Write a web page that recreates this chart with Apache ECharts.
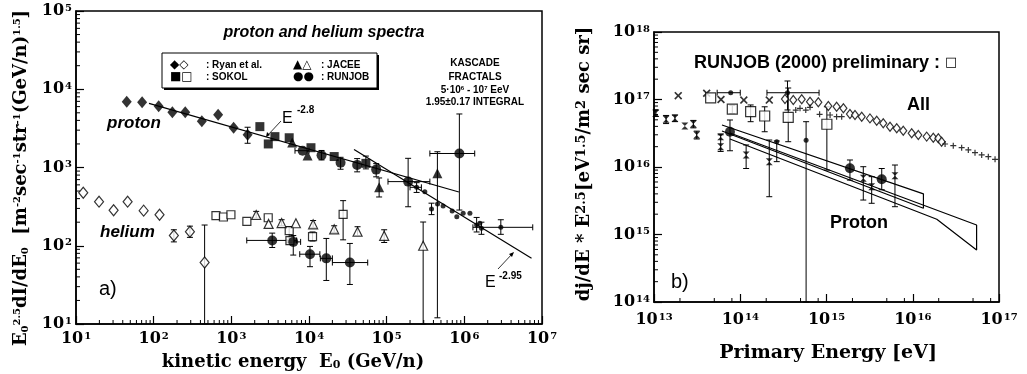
<!DOCTYPE html>
<html><head><meta charset="utf-8">
<script src="https://cdn.jsdelivr.net/npm/echarts@6/dist/echarts.min.js"></script>
<style>html,body{margin:0;padding:0;background:#fff}#c{width:1027px;height:374px}</style>
</head><body><div id="c"></div><script>
// ---------- panel a) : proton and helium spectra ----------
const ryanProton   = [[45,6900],[71,6800],[116,6050],[174,5070],[255,5070],[417,3890],[676,4730],[1070,3230],[1620,2630]];
const sokolProton  = [[2330,3330],[2990,2000],[3640,2480],[5560,2400],[10600,1790],[21100,1380],[54000,1130]];
const jaceeProton  = [[6080,2080],[9590,1420],[80000,558],[450000,843]];
const runjobProton = [[8280,1640],[14500,1430],[25500,1150],[41700,1080],[73300,940],[189000,660],[863000,1510]];
const kascadePts   = [[243000,558],[310000,491],[378000,295],[452000,342],[533000,322],[697000,278],[800000,235],[966000,260],[1180000,260],[1440000,184],[1585000,194],[1660000,167],[2950000,172]];
const ryanHelium   = [[12.4,476],[19.8,366],[30.5,284],[46.2,366],[74.3,281],[119,249],[182,135],[293,151],[453,61]];
const sokolHelium  = [[634,242],[791,233],[988,249],[1585,205],[2985,228],[5560,156],[5680,116],[11100,131],[27500,252]];
const jaceeHelium  = [[2090,247],[3020,190],[4440,195],[6780,194],[11300,188],[21100,162],[42200,151],[92900,134],[295000,100]];
const runjobHelium = [[3360,117],[6270,112],[10300,78],[16700,69],[33600,61]];
const fitE28  = [[87,6610],[851000,486]];
const fitE295 = [[38000,1700],[7330000,69]];
// vertical error bars [E, low, high]
const aVErr = [[1620,2040,3270],[182,112,160],[293,128,178],[453,10,184],[80000,420,735],[450000,12,1590],
  [189000,315,1310],[863000,286,4830],[295000,10,201],[27500,119,377],[3360,95,145],[6270,76,135],[10300,54,98],
  [16700,36,124],[33600,32,107],[2090,225,275],[4440,180,215],[11300,170,210],[21100,148,180],[42200,135,175],
  [92900,110,160],[5560,110,175],[11100,115,150],[14500,1250,1650],[25500,950,1350],[41700,880,1300],[73300,760,1120],
  [54000,960,1400],[243000,480,640],[378000,250,350],[1440000,150,230],[1660000,140,200],[2950000,140,215]];
// horizontal error bars [flux, Elow, Ehigh]
const aHErr = [[660,104000,360000],[1510,360000,1360000],[117,1580,6920],[112,5200,7800],[78,7600,13800],[69,14000,20000],
  [61,20000,57000],[172,1290000,7600000],[1640,6600,10000],[558,200000,280000]];

// ---------- panel b) : RUNJOB all-particle and proton ----------
const allDiamonds = [[3.3e14,1.016e17],[4.12e14,9.84e16],[5.16e14,1.007e17],[6.44e14,9.27e16],[8.04e14,9.08e16],[1.05e15,8.02e16],
  [1.31e15,7.82e16],[1.57e15,7.41e16],[1.87e15,6.1e16],[2.14e15,5.89e16],[2.56e15,5.56e16],[3.19e15,5.25e16],[3.82e15,4.85e16],
  [4.55e15,4.44e16],[5.45e15,3.95e16],[6.52e15,3.74e16],[7.76e15,3.45e16],[9.72e15,3.16e16],[1.16e16,2.98e16],[1.45e16,2.82e16],
  [1.73e16,2.72e16],[1.98e16,2.66e16],[2.16e16,2.37e16]];
const allPlus = [[4.4e14,6.98e16],[4.93e14,7.41e16],[5.75e14,6.98e16],[6.44e14,7.66e16],[8.32e14,6.03e16],[1.1e15,5.89e16],
  [1.31e15,5.56e16],[1.5e15,5.56e16],[2.37e16,2.19e16],[2.95e16,2.07e16],[3.69e16,1.93e16],[4.41e16,1.79e16],[5.27e16,1.63e16],
  [6.3e16,1.51e16],[7.52e16,1.42e16],[9.0e16,1.3e16]];
const allCross = [[1.91e13,1.14e17],[4.08e13,1.24e17],[5.98e13,1.0e17],[1.1e14,9.8e16],[2.17e14,9.8e16]];
const protonStars = [[1.05e13,6.25e16],[1.38e13,5.1e16],[1.75e13,5.26e16],[2.28e13,4.05e16],[2.86e13,4.34e16],[3.13e13,2.98e16],
  [5.93e13,2.81e16],[5.93e13,2.0e16],[1.17e14,1.5e16],[2.17e14,1.2e16],[2.67e15,6.8e15],[3.34e15,5.1e15],[6.22e15,7.4e15]];
const protonCircles = [[7.6e13,3.33e16],[1.87e15,9.6e15],[4.37e15,6.6e15]];
const smallDots = [[2.65e14,2.37e16],[5.8e14,2.5e16],[3.53e14,1.26e17],[7.75e13,1.26e17]];
const runjob2000 = [[4.54e13,1.06e17],[8.09e13,7.2e16],[1.32e14,6.6e16],[1.92e14,5.7e16],[3.6e14,5.45e16],[1.01e15,4.3e16]];
const bandA = [[6.14e13,4.19e16],[1.33e16,4.0e15],[1.33e16,2.45e15],[6.14e13,3.41e16]];
const bandB = [[7.6e13,3.19e16],[5.5e16,1.38e15],[5.5e16,5.9e14],[1.9e16,1.68e15],[7.6e13,2.6e16]];
const bVErr = [[1.05e13,5.6e16,7.0e16],[1.38e13,4.4e16,5.8e16],[1.75e13,4.7e16,5.9e16],[2.86e13,3.8e16,4.9e16],[3.13e13,2.6e16,3.4e16],
  [5.93e13,1.7e16,3.0e16],[7.6e13,1.74e16,4.97e16],[1.17e14,9.5e15,2.12e16],[2.17e14,3.63e15,2.51e16],[2.65e14,1.2e16,2.43e16],
  [5.8e14,1e14,4.69e16],[1.32e14,4.69e16,8.3e16],[1.92e14,3.33e16,7.8e16],[3.6e14,2.37e16,1.48e17],[1.01e15,9.0e15,7.8e16],
  [1.87e15,6.4e15,1.27e16],[4.37e15,4.6e15,9.5e15],[2.67e15,3.24e15,1.01e16],[3.34e15,2.9e15,7.2e15],[6.22e15,2.58e15,1.07e16],
  [3.53e14,7.0e16,1.88e17],[8.09e13,6.2e16,8.2e16]];
const bHErr = [[1.26e17,2.04e14,8.2e14],[1.26e17,5.4e13,1.0e14]];

// axis ranges and titles
const aXRange = [1e1, 1e7], aYRange = [1e1, 1e5];
const bXRange = [1e13, 1e17], bYRange = [1e14, 1e18];
const bXTitle = 'Primary Energy [eV]';

// ---------- helpers ----------
const SERIF = 'DejaVu Serif';
const SANS = 'Liberation Sans';
function powLabel(v){ return '{b|10}{s|' + Math.round(Math.log10(v)) + '}'; }
const tickRich = { b:{fontFamily:SERIF,fontWeight:'bold',fontSize:16,color:'#000'},
                   s:{fontFamily:SERIF,fontWeight:'bold',fontSize:10,color:'#000',verticalAlign:'top',padding:[0,0,0,1]} };
function minorVals(range, mults){
  const out=[]; for(let e=Math.round(Math.log10(range[0])); e<Math.round(Math.log10(range[1])); e++){
    mults.forEach(m=>out.push(m*Math.pow(10,e))); } return out; }
const blk = {stroke:'#000', lineWidth:1};
function vErr(params, api){
  const x=api.value(0), a=api.coord([x,api.value(1)]), b=api.coord([x,api.value(2)]), c=3;
  return {type:'group', children:[
    {type:'line',shape:{x1:a[0],y1:a[1],x2:b[0],y2:b[1]},style:blk},
    {type:'line',shape:{x1:a[0]-c,y1:a[1],x2:a[0]+c,y2:a[1]},style:blk},
    {type:'line',shape:{x1:b[0]-c,y1:b[1],x2:b[0]+c,y2:b[1]},style:blk}]};
}
function hErr(params, api){
  const y=api.value(0), a=api.coord([api.value(1),y]), b=api.coord([api.value(2),y]), c=3;
  return {type:'group', children:[
    {type:'line',shape:{x1:a[0],y1:a[1],x2:b[0],y2:b[1]},style:blk},
    {type:'line',shape:{x1:a[0],y1:a[1]-c,x2:a[0],y2:a[1]+c},style:blk},
    {type:'line',shape:{x1:b[0],y1:b[1]-c,x2:b[0],y2:b[1]+c},style:blk}]};
}
function yMinor(xmin){ return function(params, api){
  const p=api.coord([xmin, api.value(0)]);
  return {type:'line',shape:{x1:p[0],y1:p[1],x2:p[0]+4,y2:p[1]},style:{stroke:'#000',lineWidth:1}}; }; }
function xMinor(ymin){ return function(params, api){
  const p=api.coord([api.value(0), ymin]);
  return {type:'line',shape:{x1:p[0],y1:p[1],x2:p[0],y2:p[1]-4},style:{stroke:'#000',lineWidth:1}}; }; }

const X_PATH = 'path://M0,1.5L1.5,0L5,3.5L8.5,0L10,1.5L6.5,5L10,8.5L8.5,10L5,6.5L1.5,10L0,8.5L3.5,5Z';
const PLUS_PATH = 'path://M4,0H6V4H10V6H6V10H4V6H0V4H4Z';
const HOUR_PATH = 'path://M0,0L10,0L5,5L10,10L0,10L5,5Z';

function axisX(grid, range, split, margin){
  return {type:'log', logBase:10, gridIndex:grid, min:range[0], max:range[1], splitNumber:split,
    axisLine:{show:true,lineStyle:{color:'#000',width:1.5}}, splitLine:{show:false},
    axisTick:{show:true,inside:true,length:8,lineStyle:{color:'#000',width:1.2}},
    axisLabel:{formatter:powLabel, rich:tickRich, margin:margin, showMinLabel:true, showMaxLabel:true}};
}
function axisY(grid, range, split){
  return {type:'log', logBase:10, gridIndex:grid, min:range[0], max:range[1], splitNumber:split,
    axisLine:{show:true,lineStyle:{color:'#000',width:1.5}}, splitLine:{show:false},
    axisTick:{show:true,inside:true,length:8,lineStyle:{color:'#000',width:1.2}},
    axisLabel:{formatter:powLabel, rich:tickRich, margin:4, showMinLabel:true, showMaxLabel:true}};
}
function sc(name, data, xi, symbol, size, filled, z){
  return {type:'scatter', name, xAxisIndex:xi, yAxisIndex:xi, data, symbol, symbolSize:size, z:z||5,
    itemStyle: filled ? {color:'#000'} : {color:'#fff', borderColor:'#000', borderWidth:1.2}};
}
function ln(data, xi, w){
  return {type:'line', data, xAxisIndex:xi, yAxisIndex:xi, showSymbol:false, symbol:'none', z:3,
    lineStyle:{color:'#000', width:w||1.2}, animation:false};
}
function cust(data, xi, fn, z){ return {type:'custom', data, xAxisIndex:xi, yAxisIndex:xi, renderItem:fn, z:z||2, clip:false, silent:true}; }

const txt = (x,y,text,font,extra)=>Object.assign({type:'text', x, y, silent:true,
  style:Object.assign({text, font, fill:'#000', align:'left', verticalAlign:'middle'}, extra||{})});

const option = {
  animation:false,
  backgroundColor:'#fff',
  grid:[
    {left:76, top:11, width:466, height:313, show:true, borderColor:'#000', borderWidth:1.5, backgroundColor:'transparent'},
    {left:654, top:32, width:345, height:270, show:true, borderColor:'#000', borderWidth:1.5, backgroundColor:'transparent'}],
  xAxis:[axisX(0,aXRange,6,7), axisX(1,bXRange,4,10)],
  yAxis:[axisY(0,aYRange,4), axisY(1,bYRange,4)],
  series:[
    // minor ticks (axis decoration)
    cust(minorVals(aYRange,[2,3,4,5,6,7,8,9]).map(v=>[v]), 0, yMinor(aXRange[0]), 1),
    cust(minorVals(aXRange,[2,3,4,5,6,7,8,9]).map(v=>[v]), 0, xMinor(aYRange[0]), 1),
    cust(minorVals(bYRange,[2,3,4,5,6,7,8,9]).map(v=>[v]), 1, yMinor(bXRange[0]), 1),
    cust(minorVals(bXRange,[2,5,8]).map(v=>[v]), 1, xMinor(bYRange[0]), 1),
    // panel a
    ln(fitE28, 0, 1.2), ln(fitE295, 0, 1.2),
    cust(aVErr, 0, vErr), cust(aHErr, 0, hErr),
    sc('Ryan p', ryanProton, 0, 'diamond', [10,12], true),
    sc('SOKOL p', sokolProton, 0, 'rect', 9, true),
    sc('JACEE p', jaceeProton, 0, 'triangle', 10, true),
    sc('RUNJOB p', runjobProton, 0, 'circle', 10, true),
    sc('KASCADE', kascadePts, 0, 'circle', 5, true),
    sc('Ryan He', ryanHelium, 0, 'diamond', [9,11], false),
    sc('SOKOL He', sokolHelium, 0, 'rect', 8, false),
    sc('JACEE He', jaceeHelium, 0, 'triangle', 9, false),
    sc('RUNJOB He', runjobHelium, 0, 'circle', 10, true),
    // panel b
    ln(bandA, 1, 1.2), ln(bandB, 1, 1.2),
    cust(bVErr, 1, vErr), cust(bHErr, 1, hErr),
    sc('All diamonds', allDiamonds, 1, 'diamond', [7,9], false),
    sc('All plus', allPlus, 1, PLUS_PATH, 6, true),
    sc('All cross', allCross, 1, X_PATH, 8, true),
    sc('Proton stars', protonStars, 1, HOUR_PATH, 7, true),
    sc('Proton circles', protonCircles, 1, 'circle', 10, true),
    sc('Small dots', smallDots, 1, 'circle', 5, true),
    sc('RUNJOB 2000', runjob2000, 1, 'rect', 10, false, 6)
  ],
  graphic:[
    // axis titles
    {type:'text', x:293, y:362, silent:true, style:{text:'{a|kinetic energy  E}{s|0}{a| (GeV/n)}', align:'center', verticalAlign:'middle',
      rich:{a:{fontFamily:SERIF,fontWeight:'bold',fontSize:18,color:'#000'}, s:{fontFamily:SERIF,fontWeight:'bold',fontSize:11,color:'#000',verticalAlign:'bottom'}}}},
    {type:'text', x:828, y:353, silent:true, style:{text:bXTitle, align:'center', verticalAlign:'middle', font:'bold 19px "DejaVu Serif"', fill:'#000'}},
    {type:'text', x:21, y:178, rotation:Math.PI/2, silent:true, style:{
      text:'{a|E}{s|0}{p|2.5}{a|dI/dE}{s|0}{a|  [m}{p|-2}{a|sec}{p|-1}{a|str}{p|-1}{a|(GeV/n)}{p|1.5}{a|]}',
      align:'center', verticalAlign:'middle',
      rich:{a:{fontFamily:SERIF,fontWeight:'bold',fontSize:18,color:'#000'},
            p:{fontFamily:SERIF,fontWeight:'bold',fontSize:10,color:'#000',verticalAlign:'top'},
            s:{fontFamily:SERIF,fontWeight:'bold',fontSize:10,color:'#000',verticalAlign:'bottom'}}}},
    {type:'text', x:584, y:164, rotation:Math.PI/2, silent:true, style:{
      text:'{a|dj/dE * E}{p|2.5}{a|[eV}{p|1.5}{a|/m}{p|2}{a| sec sr]}',
      align:'center', verticalAlign:'middle',
      rich:{a:{fontFamily:SERIF,fontWeight:'bold',fontSize:18,color:'#000'},
            p:{fontFamily:SERIF,fontWeight:'bold',fontSize:13,color:'#000',verticalAlign:'top'}}}},
    // panel a annotations
    txt(324,33,'proton and helium spectra','italic bold 16px "Liberation Sans"',{align:'center'}),
    {type:'rect', shape:{x:164,y:55,width:215,height:35}, style:{fill:'#000'}, silent:true},
    {type:'rect', shape:{x:162,y:53,width:215,height:35}, style:{fill:'#fff',stroke:'#000',lineWidth:1}, silent:true},
    txt(170,65,'◆◇','12px "DejaVu Sans"'), txt(206,65,': Ryan et al.','bold 10px "Liberation Sans"'),
    txt(170,77,'■□','12px "DejaVu Sans"'), txt(206,77,': SOKOL','bold 10px "Liberation Sans"'),
    txt(293,65,'▲△','12px "DejaVu Sans"'), txt(321,65,': JACEE','bold 10px "Liberation Sans"'),
    txt(293,77,'●●','12px "DejaVu Sans"'), txt(321,77,': RUNJOB','bold 10px "Liberation Sans"'),
    txt(475,63,'KASCADE','bold 10px "Liberation Sans"',{align:'center'}),
    txt(475,77,'FRACTALS','bold 10px "Liberation Sans"',{align:'center'}),
    {type:'text', x:475, y:90, silent:true, style:{text:'{a|5·10}{p|6}{a| - 10}{p|7}{a| EeV}', align:'center', verticalAlign:'middle',
      rich:{a:{fontFamily:SANS,fontWeight:'bold',fontSize:10,color:'#000'}, p:{fontFamily:SANS,fontWeight:'bold',fontSize:6,color:'#000',verticalAlign:'top'}}}},
    txt(475,102,'1.95±0.17 INTEGRAL','bold 10px "Liberation Sans"',{align:'center'}),
    txt(107,123,'proton','italic bold 17px "Liberation Sans"'),
    txt(100,232,'helium','italic bold 17px "Liberation Sans"'),
    txt(99,289,'a)','20px "Liberation Sans"'),
    txt(282,119,'E','16px "Liberation Sans"'), txt(297,110,'-2.8','bold 10px "Liberation Sans"'),
    {type:'line', shape:{x1:281,y1:121,x2:267,y2:136}, style:{stroke:'#000',lineWidth:0.8}, silent:true},
    {type:'polygon', shape:{points:[[266,137],[267,132],[270,135]]}, style:{fill:'#000'}, silent:true},
    txt(485,283,'E','16px "Liberation Sans"'), txt(499,276,'-2.95','bold 10px "Liberation Sans"'),
    {type:'line', shape:{x1:498,y1:269,x2:513,y2:253}, style:{stroke:'#000',lineWidth:0.8}, silent:true},
    {type:'polygon', shape:{points:[[514,252],[509,254],[512,257]]}, style:{fill:'#000'}, silent:true},
    // panel b annotations
    {type:'text', x:694, y:63, silent:true, style:{text:'{a|RUNJOB (2000) preliminary : }{q|□}', verticalAlign:'middle',
      rich:{a:{fontFamily:SANS,fontWeight:'bold',fontSize:18,color:'#000'}, q:{fontFamily:'DejaVu Sans',fontSize:13,color:'#000'}}}},
    txt(907,105,'All','bold 18px "Liberation Sans"'),
    txt(830,223,'Proton','bold 18px "Liberation Sans"'),
    txt(671,282,'b)','20px "Liberation Sans"')
  ]
};
const chart = echarts.init(document.getElementById('c'), null, {renderer:'canvas'});
chart.setOption(option);
</script></body></html>
